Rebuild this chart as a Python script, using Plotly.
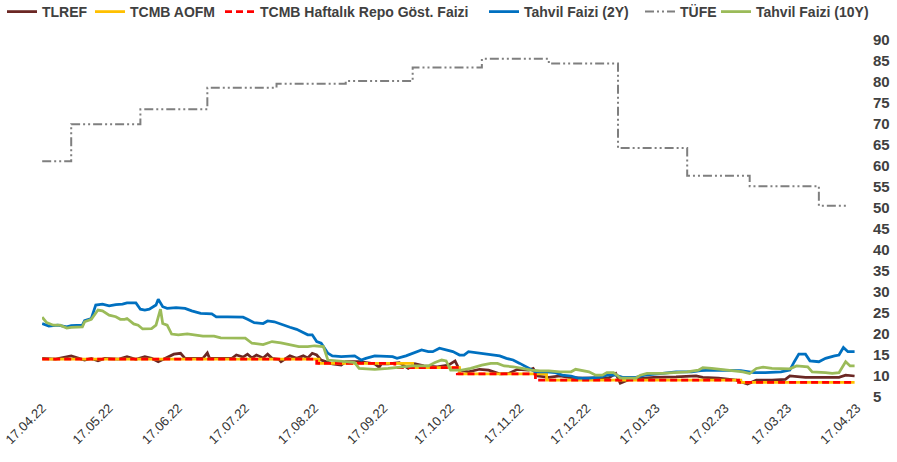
import plotly.graph_objects as go

# ---------------- data ----------------
tlref_dates = ["2022-04-17","2022-04-23","2022-04-30","2022-05-03","2022-05-06","2022-05-09","2022-05-12","2022-05-15",
               "2022-05-21","2022-05-25","2022-05-29","2022-06-02","2022-06-05","2022-06-08","2022-06-11","2022-06-15",
               "2022-06-18","2022-06-20","2022-06-23","2022-06-28","2022-06-30","2022-07-01","2022-07-11","2022-07-13",
               "2022-07-16","2022-07-18","2022-07-20","2022-07-22","2022-07-25","2022-07-27","2022-07-29","2022-08-01",
               "2022-08-02","2022-08-04","2022-08-06","2022-08-09","2022-08-12","2022-08-14","2022-08-16","2022-08-18",
               "2022-08-20","2022-08-25","2022-08-29","2022-08-31","2022-09-06","2022-09-13","2022-09-15","2022-09-16",
               "2022-09-19","2022-09-24","2022-09-26","2022-09-28","2022-10-01","2022-10-05","2022-10-11","2022-10-16",
               "2022-10-19","2022-10-21","2022-10-25","2022-10-30","2022-11-03","2022-11-08","2022-11-12","2022-11-16",
               "2022-11-21","2022-11-23","2022-11-25","2022-11-30","2022-12-05","2022-12-09","2022-12-15","2022-12-23",
               "2022-12-27","2022-12-30","2023-01-01","2023-01-05","2023-01-16","2023-01-26","2023-02-04","2023-02-07",
               "2023-02-14","2023-02-22","2023-02-27","2023-03-03","2023-03-10","2023-03-16","2023-03-18","2023-03-25",
               "2023-04-02","2023-04-09","2023-04-12","2023-04-16"]
tlref_vals = [14.2,14.0,14.8,14.3,13.8,14.2,13.6,14.2,
              14.0,14.6,14.0,14.6,14.2,13.4,14.2,15.2,
              15.4,14.2,14.2,14.2,15.5,14.2,14.2,15.0,
              14.5,15.2,14.3,15.0,14.3,15.2,14.2,14.0,
              13.4,14.0,14.8,14.2,14.8,14.3,15.4,15.0,
              13.8,12.9,12.6,13.4,13.4,12.9,12.1,12.9,
              12.9,13.2,12.6,11.8,12.9,12.4,12.2,12.6,
              13.6,11.4,11.0,11.6,11.4,10.5,10.6,11.6,
              11.4,11.8,10.0,9.7,10.0,9.7,9.5,9.5,
              9.6,10.6,8.3,9.2,9.7,9.8,10.0,9.7,
              9.5,9.0,8.1,9.0,9.0,9.2,10.0,9.7,
              9.7,9.7,10.2,10.0]

aofm_dates = ["2022-04-17","2022-08-19","2022-09-30","2022-10-21","2022-11-29","2023-02-24","2023-04-16"]
aofm_vals  = [14.0,13.0,12.0,10.5,9.0,8.5,8.5]

repo_dates = ["2022-04-17","2022-08-18","2022-09-22","2022-10-20","2022-11-24","2023-02-23","2023-04-16"]
repo_vals  = [14.0,13.0,12.0,10.5,9.0,8.5,8.5]

y2_dates = ["2022-04-17","2022-04-20","2022-04-24","2022-04-28","2022-04-30","2022-05-05","2022-05-06","2022-05-09",
            "2022-05-11","2022-05-14","2022-05-17","2022-05-20","2022-05-23","2022-05-25","2022-05-29","2022-05-31",
            "2022-06-02","2022-06-04","2022-06-07","2022-06-08","2022-06-10","2022-06-12","2022-06-16","2022-06-20",
            "2022-06-23","2022-06-27","2022-07-02","2022-07-04","2022-07-09","2022-07-16","2022-07-18","2022-07-21",
            "2022-07-25","2022-07-27","2022-07-30","2022-08-02","2022-08-06","2022-08-09","2022-08-11","2022-08-14",
            "2022-08-16","2022-08-18","2022-08-20","2022-08-23","2022-08-25","2022-08-29","2022-09-04","2022-09-07",
            "2022-09-09","2022-09-13","2022-09-21","2022-09-23","2022-09-27","2022-09-30","2022-10-04","2022-10-07",
            "2022-10-09","2022-10-12","2022-10-15","2022-10-18","2022-10-21","2022-10-23","2022-10-25","2022-10-30",
            "2022-11-02","2022-11-05","2022-11-08","2022-11-11","2022-11-14","2022-11-17","2022-11-20","2022-11-24",
            "2022-11-29","2022-12-03","2022-12-06","2022-12-10","2022-12-13","2022-12-18","2022-12-23","2022-12-26",
            "2022-12-30","2023-01-02","2023-01-08","2023-01-12","2023-01-20","2023-01-26","2023-02-02","2023-02-06",
            "2023-02-11","2023-02-17","2023-02-24","2023-03-02","2023-03-07","2023-03-14","2023-03-18","2023-03-20",
            "2023-03-22","2023-03-25","2023-03-27","2023-03-31","2023-04-03","2023-04-07","2023-04-09","2023-04-11",
            "2023-04-13","2023-04-16"]
y2_vals = [22.5,21.9,22.1,21.7,22.0,22.1,23.2,23.7,
           26.9,27.1,26.7,27.0,27.1,27.4,27.4,25.9,
           25.7,25.9,26.9,28.3,26.5,26.1,26.3,26.1,
           25.5,24.9,24.8,24.1,24.1,24.0,23.5,22.7,
           22.5,23.1,22.9,22.3,21.6,21.1,20.5,19.8,
           19.8,18.2,17.8,15.4,14.8,14.6,14.8,13.8,
           14.2,14.8,14.6,14.2,14.8,15.4,16.2,15.8,
           15.8,16.6,16.2,15.8,15.0,15.0,15.8,15.5,
           15.2,15.0,14.8,14.2,13.8,13.0,12.1,11.0,
           11.0,10.8,10.2,10.0,9.5,9.5,9.7,10.2,
           10.2,9.7,9.7,10.2,10.6,11.0,11.0,11.3,
           11.4,11.4,11.3,10.8,10.8,11.0,11.4,13.4,
           15.2,15.2,13.6,13.4,14.2,14.8,15.0,16.8,
           15.8,15.8]

tufe_dates = ["2022-04-17","2022-04-30","2022-05-31","2022-06-30","2022-07-31","2022-08-31","2022-09-30",
              "2022-10-31","2022-11-30","2022-12-31","2023-01-31","2023-02-28","2023-03-31","2023-04-13"]
tufe_vals  = [61.14,69.97,73.50,78.62,79.60,80.21,83.45,85.51,84.39,64.27,57.68,55.18,50.51,50.51]

y10_dates = ["2022-04-17","2022-04-19","2022-04-22","2022-04-25","2022-04-28","2022-04-30","2022-05-05","2022-05-06",
             "2022-05-09","2022-05-12","2022-05-14","2022-05-17","2022-05-20","2022-05-22","2022-05-24","2022-05-25",
             "2022-05-28","2022-05-30","2022-06-01","2022-06-05","2022-06-07","2022-06-09","2022-06-10","2022-06-12",
             "2022-06-14","2022-06-17","2022-06-21","2022-06-28","2022-07-03","2022-07-06","2022-07-17","2022-07-20",
             "2022-07-25","2022-07-29","2022-08-02","2022-08-07","2022-08-10","2022-08-14","2022-08-17","2022-08-21",
             "2022-08-23","2022-08-31","2022-09-04","2022-09-06","2022-09-13","2022-09-19","2022-09-24","2022-09-30",
             "2022-10-07","2022-10-10","2022-10-13","2022-10-15","2022-10-17","2022-10-22","2022-10-26","2022-10-31",
             "2022-11-04","2022-11-07","2022-11-10","2022-11-14","2022-11-18","2022-11-22","2022-11-26","2022-11-30",
             "2022-12-05","2022-12-10","2022-12-12","2022-12-15","2022-12-18","2022-12-21","2022-12-24","2022-12-26",
             "2022-12-29","2022-12-31","2023-01-01","2023-01-08","2023-01-10","2023-01-13","2023-01-20","2023-01-25",
             "2023-01-31","2023-02-05","2023-02-07","2023-02-11","2023-02-17","2023-02-25","2023-02-28","2023-03-03",
             "2023-03-06","2023-03-10","2023-03-18","2023-03-21","2023-03-26","2023-03-28","2023-04-03","2023-04-06",
             "2023-04-09","2023-04-12","2023-04-14","2023-04-16"]
y10_vals = [24.0,22.7,22.1,22.1,21.4,21.6,21.7,22.9,
            23.5,25.7,25.5,24.5,24.1,23.5,23.5,23.7,
            22.4,22.1,21.2,21.3,22.1,25.9,22.5,22.1,
            20.0,19.8,20.0,19.5,19.5,19.1,19.0,17.8,
            17.5,18.2,17.9,17.4,17.0,17.0,17.2,17.0,
            13.8,13.4,13.2,11.8,11.6,11.8,12.1,12.4,
            12.4,13.2,13.8,13.6,11.4,11.4,11.8,12.6,
            13.0,13.0,12.4,12.2,11.8,11.4,11.2,11.2,
            11.0,11.0,11.6,11.3,11.0,10.2,10.2,10.8,
            10.8,10.0,9.5,9.5,10.2,10.6,10.6,10.8,
            11.0,11.4,12.0,11.8,11.4,11.0,10.6,11.8,
            12.1,11.8,11.7,12.4,12.2,11.0,10.8,10.6,
            10.8,13.4,12.4,12.4]

tick_dates = ["2022-04-17","2022-05-17","2022-06-17","2022-07-17","2022-08-17","2022-09-17","2022-10-17",
              "2022-11-17","2022-12-17","2023-01-17","2023-02-17","2023-03-17","2023-04-17"]
y_ticks = list(range(5, 95, 5))

# ---------------- figure ----------------
W, H = 897, 462
ML, MR, MT, MB = 42, 38, 40, 63
pw, ph = W - ML - MR, H - MT - MB
sx, sy = 2.0 / pw, 2.0 / ph

# name, x, y, colour, dash, shape, width, legend text left edge (px)
series = [
    ("TLREF", tlref_dates, tlref_vals, "#6B2724", "solid", "linear", 2.75, 42),
    ("TCMB AOFM", aofm_dates, aofm_vals, "#FFC000", "solid", "hv", 2.75, 130),
    ("TCMB Haftalık Repo Göst. Faizi", repo_dates, repo_vals, "#FF0000", "7px,4px", "hv", 2.75, 260),
    ("Tahvil Faizi (2Y)", y2_dates, y2_vals, "#0070C0", "solid", "linear", 2.75, 524),
    ("TÜFE", tufe_dates, tufe_vals, "#7F7F7F", "9px,3px,2px,3px,2px,3px", "hv", 2, 680),
    ("Tahvil Faizi (10Y)", y10_dates, y10_vals, "#9BBB59", "solid", "linear", 2.75, 756),
]

font = "Liberation Sans, Arial, sans-serif"
fig = go.Figure()
fig.add_trace(go.Scatter(x=[], y=[], xaxis="x", yaxis="y", showlegend=False, hoverinfo="skip"))
for name, xs, ys, col, dash, shape, w, lx in series:
    fig.add_trace(go.Scatter(x=xs, y=ys, mode="lines", xaxis="x2", yaxis="y2",
                             line=dict(color="rgba(0,0,0,0.16)", width=w + 1.5, shape=shape),
                             showlegend=False, hoverinfo="skip"))
legends = {}
for i, (name, xs, ys, col, dash, shape, w, lx) in enumerate(series):
    lg = "legend" if i == 0 else f"legend{i + 1}"
    fig.add_trace(go.Scatter(x=xs, y=ys, mode="lines", name=name, xaxis="x3", yaxis="y3", legend=lg,
                             line=dict(color=col, width=w, dash=dash, shape=shape)))
    legends[lg] = dict(orientation="h", xref="container", x=(lx - 40) / W, xanchor="left",
                       yref="container", y=1 - 12 / H, yanchor="middle",
                       font=dict(size=14, family=font, color="#404040", weight="bold"),
                       itemwidth=30, bgcolor="rgba(0,0,0,0)", borderwidth=0)

xr = ["2022-04-16 22:00", "2023-04-17 02:00"]
yr = [5, 90]

fig.update_layout(
    width=W, height=H,
    margin=dict(l=ML, r=MR, t=MT, b=MB, autoexpand=False),
    paper_bgcolor="white", plot_bgcolor="white",
    font=dict(family=font, color="#404040"),
    showlegend=True,
    xaxis=dict(domain=[0, 1 - sx], range=xr, type="date", tickmode="array", tickvals=tick_dates,
               tickformat="%d.%m.%y", tickangle=-45, showgrid=False, zeroline=False, showline=False,
               ticks="", tickfont=dict(size=13, family=font, color="#333333"), anchor="y"),
    yaxis=dict(domain=[sy, 1], range=yr, side="right", tickmode="array", tickvals=y_ticks,
               showgrid=True, gridcolor="#D9D9D9", gridwidth=1, zeroline=False, showline=False,
               ticks="outside", ticklen=12, tickcolor="rgba(255,255,255,0)",
               tickfont=dict(size=15, family=font, color="#404040", weight="bold"), anchor="x"),
    xaxis2=dict(domain=[sx, 1], range=xr, type="date", visible=False, anchor="y2"),
    yaxis2=dict(domain=[0, 1 - sy], range=yr, visible=False, anchor="x2"),
    xaxis3=dict(domain=[0, 1 - sx], range=xr, type="date", visible=False, anchor="y3"),
    yaxis3=dict(domain=[sy, 1], range=yr, visible=False, anchor="x3"),
    **legends,
)

fig.write_html("out.html", config={"displayModeBar": False},
               post_script="document.body.style.margin='0';document.body.style.overflow='hidden';")
